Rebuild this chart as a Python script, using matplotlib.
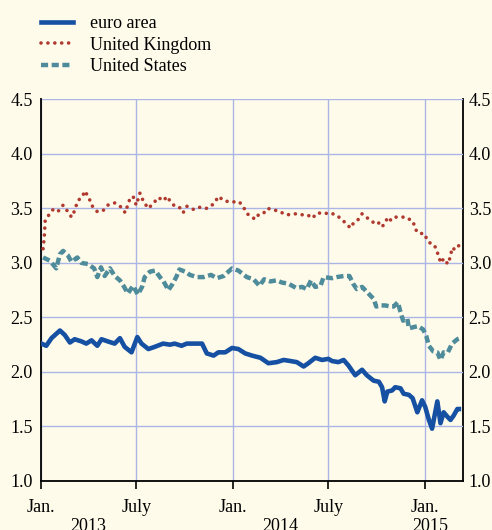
import numpy as np
import pandas as pd
import matplotlib
matplotlib.use('Agg')
import matplotlib.pyplot as plt
import matplotlib.dates as mdates

# values; x given as days after 1 Jan 2013
start = pd.Timestamp('2013-01-01')

eu_day = [1, 10, 20, 36, 45, 55, 64, 77, 86, 96, 107, 115, 127, 140, 150, 159, 172, 183, 191,
          204, 216, 232, 245, 254, 267, 277, 293, 306, 315, 328, 337, 350, 363, 375, 388, 401,
          417, 432, 448, 461, 474, 486, 499, 508, 521, 534, 546, 553, 565, 575, 584, 597, 610,
          619, 632, 642, 648, 653, 658, 667, 673, 683, 689, 699, 706, 715, 724, 730, 737, 743,
          753, 759, 765, 772, 778, 784, 791, 794]
eu_val = [2.26, 2.24, 2.31, 2.38, 2.34, 2.27, 2.30, 2.28, 2.26, 2.29, 2.24, 2.30, 2.28, 2.26,
          2.31, 2.23, 2.18, 2.32, 2.26, 2.21, 2.23, 2.26, 2.25, 2.26, 2.24, 2.26, 2.26, 2.26,
          2.17, 2.15, 2.18, 2.18, 2.22, 2.21, 2.17, 2.15, 2.13, 2.08, 2.09, 2.11, 2.10, 2.09,
          2.05, 2.08, 2.13, 2.11, 2.12, 2.10, 2.09, 2.11, 2.06, 1.97, 2.02, 1.97, 1.92, 1.91,
          1.86, 1.73, 1.82, 1.83, 1.86, 1.85, 1.80, 1.79, 1.76, 1.63, 1.74, 1.68, 1.56, 1.48,
          1.73, 1.53, 1.63, 1.59, 1.56, 1.60, 1.66, 1.66]

uk_day = [4, 6, 7, 8, 15, 23, 32, 42, 51, 58, 63, 70, 79, 83, 91, 96, 107, 118, 127, 140, 153,
          160, 169, 175, 181, 188, 195, 204, 214, 223, 233, 239, 245, 254, 263, 270, 277, 290,
          301, 314, 323, 331, 337, 348, 359, 369, 377, 386, 392, 401, 407, 413, 422, 430, 440,
          447, 458, 467, 479, 487, 498, 507, 515, 526, 537, 548, 561, 571, 580, 588, 593, 600,
          610, 618, 626, 632, 640, 646, 652, 659, 665, 673, 681, 692, 700, 707, 711, 718, 728,
          735, 740, 746, 751, 756, 760, 765, 773, 778, 781, 787, 794]
uk_val = [3.13, 3.22, 3.30, 3.39, 3.44, 3.49, 3.47, 3.53, 3.47, 3.42, 3.47, 3.57, 3.61, 3.66,
          3.60, 3.53, 3.47, 3.48, 3.53, 3.55, 3.51, 3.46, 3.59, 3.61, 3.53, 3.64, 3.56, 3.50,
          3.55, 3.60, 3.57, 3.61, 3.57, 3.52, 3.51, 3.46, 3.52, 3.49, 3.51, 3.50, 3.52, 3.56,
          3.61, 3.57, 3.56, 3.56, 3.56, 3.50, 3.45, 3.42, 3.40, 3.44, 3.45, 3.50, 3.49, 3.48,
          3.46, 3.44, 3.45, 3.45, 3.44, 3.44, 3.41, 3.46, 3.45, 3.46, 3.44, 3.40, 3.36, 3.32,
          3.36, 3.38, 3.45, 3.42, 3.39, 3.37, 3.38, 3.33, 3.35, 3.42, 3.39, 3.42, 3.42, 3.42,
          3.40, 3.38, 3.31, 3.27, 3.27, 3.20, 3.18, 3.17, 3.13, 3.05, 3.00, 3.04, 2.99, 3.06,
          3.14, 3.12, 3.16]

us_day = [4, 17, 29, 36, 42, 51, 58, 69, 77, 89, 101, 107, 114, 121, 131, 140, 150, 158, 165,
          175, 184, 192, 197, 207, 217, 226, 233, 242, 249, 257, 263, 274, 283, 296, 309, 323,
          334, 347, 363, 375, 391, 404, 415, 424, 436, 447, 458, 470, 485, 496, 505, 513, 521,
          531, 537, 553, 562, 575, 586, 593, 600, 610, 616, 626, 632, 637, 645, 654, 664, 670,
          678, 683, 688, 696, 699, 707, 716, 726, 732, 737, 745, 753, 759, 765, 773, 781, 791, 796]
us_val = [3.05, 3.02, 2.95, 3.08, 3.11, 3.07, 3.01, 3.05, 3.00, 2.99, 2.95, 2.87, 2.96, 2.88,
          2.95, 2.88, 2.84, 2.78, 2.72, 2.79, 2.71, 2.78, 2.87, 2.92, 2.93, 2.87, 2.83, 2.75,
          2.80, 2.87, 2.94, 2.92, 2.89, 2.87, 2.87, 2.89, 2.86, 2.88, 2.95, 2.93, 2.87, 2.85,
          2.79, 2.85, 2.83, 2.84, 2.82, 2.81, 2.77, 2.78, 2.76, 2.84, 2.78, 2.79, 2.87, 2.86,
          2.87, 2.88, 2.88, 2.81, 2.76, 2.78, 2.75, 2.70, 2.67, 2.60, 2.61, 2.61, 2.60, 2.60,
          2.64, 2.55, 2.47, 2.49, 2.40, 2.41, 2.42, 2.39, 2.33, 2.24, 2.19, 2.18, 2.11, 2.18,
          2.18, 2.26, 2.30, 2.31]

yticks = [1.0, 1.5, 2.0, 2.5, 3.0, 3.5, 4.0, 4.5]
xtick_dates = ['2013-01-01', '2013-07-01', '2014-01-01', '2014-07-01', '2015-01-01']
xtick_labels = ['Jan.', 'July', 'Jan.', 'July', 'Jan.']
years = ['2013', '2014', '2015']
year_pos = ['2013-04-01', '2014-04-01', '2015-01-10']

bg = '#fffbea'
gridc = '#aab6e6'
plt.rcParams['font.family'] = ['Liberation Serif', 'DejaVu Serif']
plt.rcParams['font.size'] = 13

def to_dates(days):
    return start + pd.to_timedelta(days, unit='D')

fig = plt.figure(figsize=(4.92, 5.30), dpi=100, facecolor=bg)
ax = fig.add_axes([0.0833, 0.0925, 0.858, 0.720], facecolor=bg)

ax.plot(to_dates(us_day), us_val, color='#4f8c9b', lw=3.2, ls=(0, (1.6, 0.8)),
        dash_capstyle='butt', label='United States', zorder=3)
ax.plot(to_dates(uk_day), uk_val, color='#b03a30', lw=2.6, ls=(0, (0.01, 1.9)),
        dash_capstyle='round', label='United Kingdom', zorder=3)
ax.plot(to_dates(eu_day), eu_val, color='#1550a3', lw=3.3, solid_joinstyle='round',
        label='euro area', zorder=4)

ax.set_ylim(1.0, 4.5)
ax.set_yticks(yticks)
ax.set_yticklabels(['%.1f' % v for v in yticks])
ax.set_xlim(pd.Timestamp('2013-01-01'), pd.Timestamp('2015-03-14'))
ax.set_xticks(pd.to_datetime(xtick_dates))
ax.set_xticklabels(xtick_labels)

ax.grid(True, color=gridc, lw=1.0)
ax.set_axisbelow(True)
ax.tick_params(axis='y', length=0, pad=6)
ax.tick_params(axis='x', direction='out', length=6, width=1.2, pad=7)
for s in ['left', 'bottom']:
    ax.spines[s].set_linewidth(1.3)
    ax.spines[s].set_color('black')
ax.spines['top'].set_visible(False)
ax.spines['right'].set_visible(False)

# right-hand scale repeats the left one
sec = ax.secondary_yaxis('right')
sec.set_yticks(yticks)
sec.set_yticklabels(['%.1f' % v for v in yticks])
sec.tick_params(length=0, pad=4)
sec.spines['right'].set_linewidth(1.3)
sec.spines['right'].set_color('black')

for yr, pos in zip(years, year_pos):
    ax.text(pd.Timestamp(pos), -0.098, yr, transform=ax.get_xaxis_transform(),
            ha='center', va='top', fontsize=13)

h, l = ax.get_legend_handles_labels()
order = [2, 1, 0]
fig.legend([h[i] for i in order], [l[i] for i in order], loc='upper left',
           bbox_to_anchor=(0.083, 0.972), frameon=False, handlelength=1.8,
           handletextpad=0.9, labelspacing=0.26, borderpad=0, borderaxespad=0,
           fontsize=13)

fig.savefig('out.png', dpi=100, facecolor=bg)
